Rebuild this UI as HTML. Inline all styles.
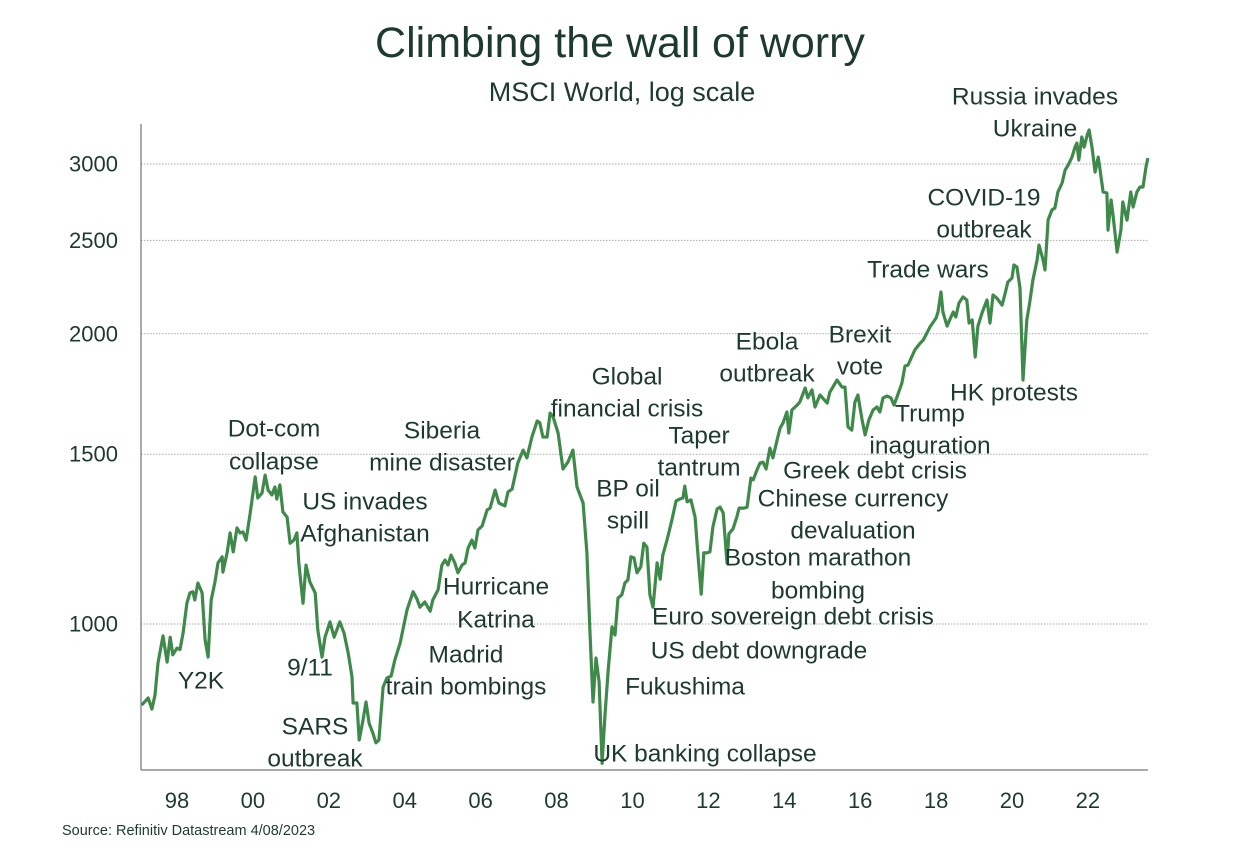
<!DOCTYPE html>
<html><head><meta charset="utf-8"><style>
html,body{margin:0;padding:0;background:#fff;}
svg{display:block;font-family:"Liberation Sans",Arial,sans-serif;}
</style></head><body>
<svg id="chart" width="1250" height="860" viewBox="0 0 1250 860" xmlns="http://www.w3.org/2000/svg">
<text x="620" y="57" text-anchor="middle" font-size="43" fill="#1d3a30">Climbing the wall of worry</text>
<text x="622" y="101" text-anchor="middle" font-size="27" fill="#1d3a30">MSCI World, log scale</text>
<g id="grid"></g>
<g id="yticks"></g>
<g id="xticks"></g>
<line x1="141" y1="124" x2="141" y2="770" stroke="#555" stroke-width="1"/>
<line x1="141" y1="770" x2="1148" y2="770" stroke="#555" stroke-width="1"/>
<path id="series" fill="none" stroke="#3f8a4a" stroke-width="3.2" stroke-linejoin="round"/>
<g id="annots"></g>
<text x="62" y="835" font-size="14.5" fill="#1d3a30">Source: Refinitiv Datastream 4/08/2023</text>
</svg>
<script>
const dates = [1997.07,1997.24,1997.34,1997.42,1997.50,1997.63,1997.74,1997.82,1997.89,1998.00,1998.08,1998.16,1998.26,1998.34,1998.42,1998.47,1998.55,1998.66,1998.74,1998.82,1998.90,1999.00,1999.08,1999.19,1999.21,1999.32,1999.40,1999.48,1999.58,1999.66,1999.74,1999.82,1999.92,2000.06,2000.13,2000.24,2000.32,2000.40,2000.50,2000.58,2000.63,2000.71,2000.79,2000.90,2000.98,2001.08,2001.16,2001.21,2001.32,2001.40,2001.50,2001.64,2001.71,2001.82,2001.90,2002.03,2002.14,2002.29,2002.40,2002.51,2002.61,2002.64,2002.74,2002.80,2002.90,2002.98,2003.06,2003.16,2003.24,2003.32,2003.43,2003.53,2003.64,2003.74,2003.88,2004.06,2004.22,2004.32,2004.40,2004.53,2004.67,2004.74,2004.88,2004.98,2005.06,2005.14,2005.22,2005.32,2005.40,2005.51,2005.59,2005.67,2005.77,2005.85,2005.93,2006.04,2006.17,2006.25,2006.38,2006.48,2006.64,2006.72,2006.83,2006.98,2007.12,2007.22,2007.35,2007.49,2007.56,2007.64,2007.75,2007.83,2007.91,2007.99,2008.04,2008.17,2008.30,2008.43,2008.54,2008.70,2008.80,2008.88,2008.96,2009.04,2009.12,2009.20,2009.28,2009.36,2009.46,2009.54,2009.62,2009.72,2009.80,2009.88,2009.96,2010.04,2010.12,2010.22,2010.30,2010.38,2010.46,2010.54,2010.65,2010.73,2010.80,2010.91,2011.04,2011.15,2011.25,2011.33,2011.38,2011.44,2011.54,2011.65,2011.73,2011.81,2011.88,2011.96,2012.04,2012.12,2012.23,2012.31,2012.39,2012.49,2012.54,2012.65,2012.75,2012.81,2012.94,2013.02,2013.12,2013.18,2013.28,2013.36,2013.44,2013.52,2013.62,2013.70,2013.81,2013.89,2013.97,2014.07,2014.12,2014.20,2014.34,2014.41,2014.55,2014.62,2014.73,2014.81,2014.94,2015.13,2015.20,2015.28,2015.39,2015.52,2015.60,2015.68,2015.78,2015.86,2015.94,2016.05,2016.13,2016.23,2016.34,2016.44,2016.52,2016.60,2016.71,2016.81,2016.89,2016.97,2017.10,2017.18,2017.26,2017.44,2017.58,2017.66,2017.76,2017.84,2018.00,2018.05,2018.13,2018.18,2018.29,2018.37,2018.45,2018.52,2018.60,2018.71,2018.81,2018.87,2018.95,2019.03,2019.10,2019.21,2019.34,2019.42,2019.50,2019.60,2019.74,2019.82,2019.89,2020.00,2020.05,2020.13,2020.21,2020.29,2020.39,2020.47,2020.55,2020.66,2020.71,2020.82,2020.87,2020.95,2021.05,2021.13,2021.21,2021.32,2021.40,2021.48,2021.58,2021.66,2021.71,2021.76,2021.84,2021.90,2021.98,2022.03,2022.11,2022.19,2022.27,2022.32,2022.40,2022.50,2022.53,2022.61,2022.66,2022.77,2022.87,2022.92,2023.03,2023.13,2023.19,2023.29,2023.37,2023.45,2023.53,2023.58];
const values = [824,838,816,844,911,972,913,969,929,944,941,979,1051,1077,1080,1059,1103,1077,963,924,1059,1106,1157,1174,1132,1185,1243,1188,1258,1243,1246,1222,1297,1421,1351,1367,1427,1377,1361,1387,1348,1394,1307,1291,1213,1222,1243,1157,1051,1151,1106,1077,986,924,969,1005,969,1005,979,933,881,828,828,758,795,830,789,771,753,758,860,879,883,918,956,1034,1080,1062,1041,1054,1031,1059,1085,1151,1165,1151,1179,1157,1130,1151,1157,1199,1222,1199,1252,1264,1313,1319,1377,1335,1326,1371,1380,1469,1515,1487,1563,1624,1617,1563,1563,1655,1640,1601,1578,1448,1472,1515,1387,1335,1185,979,830,922,871,717,808,896,993,974,1064,1072,1103,1111,1174,1171,1130,1146,1213,1202,1072,1041,1157,1113,1179,1222,1282,1342,1348,1351,1390,1339,1345,1291,1174,1074,1185,1185,1188,1261,1316,1322,1304,1157,1240,1255,1291,1319,1319,1322,1417,1411,1445,1469,1472,1448,1522,1487,1552,1597,1617,1659,1578,1667,1687,1699,1757,1716,1749,1679,1728,1695,1740,1761,1791,1761,1761,1601,1589,1699,1728,1628,1571,1628,1667,1679,1659,1716,1724,1716,1687,1720,1778,1852,1856,1924,1956,1970,2004,2033,2077,2107,2210,2107,2037,2072,2107,2082,2152,2184,2168,2052,2067,1892,2037,2102,2168,2052,2194,2178,2142,2204,2263,2285,2357,2346,2231,1791,2067,2158,2274,2385,2472,2385,2329,2624,2688,2701,2806,2867,2957,2993,3050,3124,3154,3029,3200,3124,3215,3254,3117,2943,3050,2957,2806,2799,2562,2753,2656,2431,2562,2740,2624,2806,2707,2806,2840,2840,2979,3043];
const yTicks = [1000,1500,2000,2500,3000];
const xTickYears = [1998,2000,2002,2004,2006,2008,2010,2012,2014,2016,2018,2020,2022];
const xTickLabels = ["98","00","02","04","06","08","10","12","14","16","18","20","22"];
const annotationLines = [
 ["Russia invades",1035,96],["Ukraine",1035,128],["COVID-19",984,197],["outbreak",984,229],
 ["Trade wars",928,269],["Brexit",860,334],["vote",860,366],["Ebola",767,341],["outbreak",767,373],
 ["HK protests",1014,392],["Trump",930,413],["inaguration",930,445],["Global",627,376],["financial crisis",627,408],
 ["Taper",699,435],["tantrum",699,467],["Greek debt crisis",875,470],["Chinese currency",853,498],["devaluation",853,530],
 ["BP oil",628,488],["spill",628,520],["Boston marathon",818,557],["bombing",818,590],
 ["Euro sovereign debt crisis",793,616],["US debt downgrade",759,650],["Fukushima",685,686],["UK banking collapse",705,753],
 ["Dot-com",274,428],["collapse",274,461],["US invades",365,501],["Afghanistan",365,533],
 ["Siberia",442,430],["mine disaster",442,462],["Hurricane",496,586],["Katrina",496,619],
 ["Madrid",466,654],["train bombings",466,686],["Y2K",201,680],["9/11",310,667],["SARS",315,726],["outbreak",315,758]
];
const NS="http://www.w3.org/2000/svg";
function xScale(t){return 177+(t-1998)*37.955;}
function yScale(v){return 624-Math.log(v/1000)*418.7;}
const grid=document.getElementById('grid'), yt=document.getElementById('yticks'), xt=document.getElementById('xticks');
yTicks.forEach(v=>{
 const l=document.createElementNS(NS,'line');
 
 
 l.setAttribute('x1',141);l.setAttribute('x2',1148);l.setAttribute('y1',yScale(v));l.setAttribute('y2',yScale(v));
 l.setAttribute('stroke','#aaa');l.setAttribute('stroke-dasharray','1.5,1.5');l.setAttribute('stroke-width','1');
 grid.appendChild(l);
 const t=document.createElementNS(NS,'text');
 
 
 t.setAttribute('x',118);t.setAttribute('y',yScale(v)+7.5);t.setAttribute('text-anchor','end');
 t.setAttribute('font-size','22');t.setAttribute('fill','#1d3a30');t.textContent=v;
 yt.appendChild(t);
});
xTickYears.forEach((yr,i)=>{
 const t=document.createElementNS(NS,'text');
 
 
 t.setAttribute('x',xScale(yr));t.setAttribute('y',808);t.setAttribute('text-anchor','middle');
 t.setAttribute('font-size','22');t.setAttribute('fill','#1d3a30');t.textContent=xTickLabels[i];
 xt.appendChild(t);
});
let d='';
dates.forEach((t,i)=>{d+=(i?'L':'M')+xScale(t).toFixed(1)+','+yScale(values[i]).toFixed(1);});
document.getElementById('series').setAttribute('d',d);
const an=document.getElementById('annots');
annotationLines.forEach(a=>{
 const t=document.createElementNS(NS,'text');
 
 
 t.setAttribute('x',a[1]);t.setAttribute('y',a[2]+8.5);t.setAttribute('text-anchor','middle');
 t.setAttribute('font-size','24.5');t.setAttribute('fill','#1d3a30');t.textContent=a[0];
 an.appendChild(t);
});
</script>
</body></html>
